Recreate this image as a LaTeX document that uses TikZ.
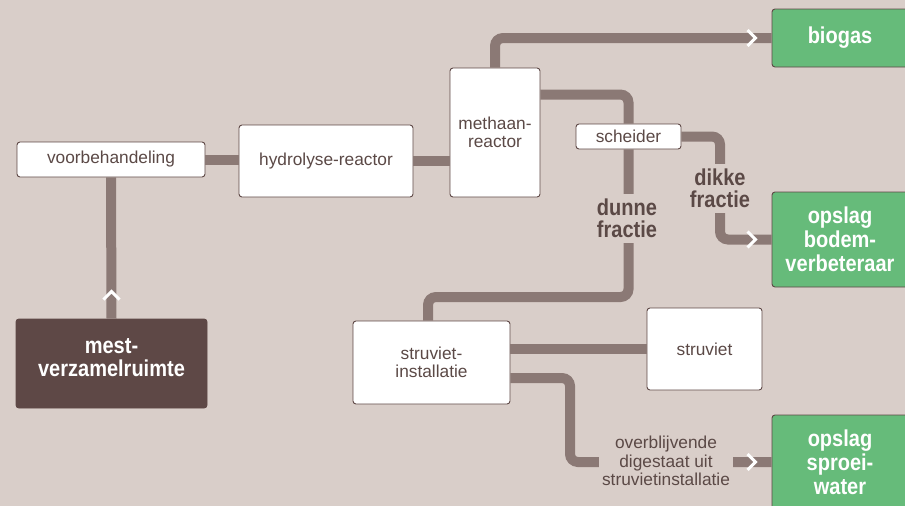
\documentclass[tikz,border=0pt]{standalone}
\usepackage{fontspec}
\setmainfont{Liberation Sans}
\newfontfamily\cb{Liberation Sans}[FakeStretch=0.87]
\usetikzlibrary{calc}
\definecolor{bgc}{HTML}{D9CEC9}
\definecolor{pipec}{HTML}{8B7975}
\definecolor{greenc}{HTML}{66BB7A}
\definecolor{darkc}{HTML}{5E4846}
\definecolor{txtc}{HTML}{5B4946}
\begin{document}
\begin{tikzpicture}[x=1pt,y=-1pt,
  box/.style={draw=darkc, line width=0.9pt, fill=white, rounded corners=3pt,
    text=txtc, font=\fontsize{17.3}{18.5}\selectfont, align=center, inner sep=0pt},
  gbox/.style={draw=darkc, line width=0.9pt, fill=greenc, rounded corners=3pt,
    text=white, font=\cb\bfseries\fontsize{23}{24}\selectfont, align=center, inner sep=0pt},
  dbox/.style={draw=darkc, line width=0.9pt, fill=darkc, rounded corners=3pt,
    text=white, font=\cb\bfseries\fontsize{23}{22.5}\selectfont, align=center, inner sep=0pt},
  pipe/.style={draw=pipec, line width=10pt, rounded corners=8pt},
  lbl/.style={fill=bgc, text=txtc, font=\cb\bfseries\fontsize{23}{22.5}\selectfont,
    align=center, inner xsep=2pt, inner ysep=4.5pt},
  slbl/.style={fill=bgc, text=txtc, font=\fontsize{17.3}{18.5}\selectfont,
    align=center, inner xsep=3pt, inner ysep=2pt},
  chev/.style={draw=white, line width=3pt, line join=miter, line cap=butt}
]
\useasboundingbox (0,0) rectangle (905,506);
\fill[bgc] (0,0) rectangle (905,506);

% boxes
\node[box, minimum width=188pt, minimum height=35pt] (voor) at (111,159.5) {voorbehandeling};
\node[box, minimum width=174pt, minimum height=72pt] (hydro) at (326,161) {hydrolyse-reactor};
\node[box, minimum width=90pt, minimum height=129pt] (meth) at (495,132.5) {methaan-\\reactor};
\node[box, minimum width=105pt, minimum height=25pt] (sch) at (628.5,136.5) {scheider};
\node[box, minimum width=157pt, minimum height=83pt] (struv) at (431.5,362.5) {struviet-\\installatie};
\node[box, minimum width=115pt, minimum height=82pt] (struviet) at (704.5,349) {struviet};
\node[dbox, minimum width=191pt, minimum height=89pt] (mest) at (111.5,363.5) {mest-\\verzamelruimte\\[-10.5pt]};
\node[gbox, minimum width=136pt, minimum height=58pt] (biogas) at (840,38) {biogas};
\node[gbox, minimum width=136pt, minimum height=95pt] (bodem) at (840,239.5) {opslag\\bodem-\\verbeteraar};
\node[gbox, minimum width=136pt, minimum height=94pt] (sproei) at (840,462) {opslag\\sproei-\\water};

% bend points
\coordinate (b1) at (428,297);
\coordinate (b2) at (720,239.5);
\coordinate (b3) at (570,462);

% pipes
\draw[pipe] (mest.north) -- (voor.south);
\draw[pipe] (voor.east) -- (voor.east -| hydro.west);
\draw[pipe] (hydro.east) -- (hydro.east -| meth.west);
\draw[pipe] (meth.north) |- (biogas.west);
\draw[pipe] ([yshift=-27pt]meth.north east) -| (sch.north);
\draw[pipe] (sch.south) |- (b1) -- (b1 |- struv.north);
\draw[pipe] (sch.east) -| (b2) -- (bodem.west);
\draw[pipe] (struviet.west) -- (struviet.west -| struv.east);
\draw[pipe] ([yshift=-15.5pt]struv.east) -| (b3) -- (sproei.west);

% labels on pipes
\node[lbl] (dunne) at (627,218.5) {dunne\\fractie};
\node[lbl] (dikke) at (720,188.5) {dikke\\fractie};
\node[slbl] (rest) at (666,461) {overblijvende\\digestaat uit\\struvietinstallatie};

% chevrons
\draw[chev] ($(biogas.west)+(-24,-8)$) -- ++(8,8) -- ++(-8,8);
\draw[chev] ($(bodem.west)+(-24,-8)$) -- ++(8,8) -- ++(-8,8);
\draw[chev] ($(sproei.west)+(-24,-8)$) -- ++(8,8) -- ++(-8,8);
\draw[chev] ($(mest.north)+(-8,-19)$) -- ++(8,-8) -- ++(8,8);
\end{tikzpicture}
\end{document}
